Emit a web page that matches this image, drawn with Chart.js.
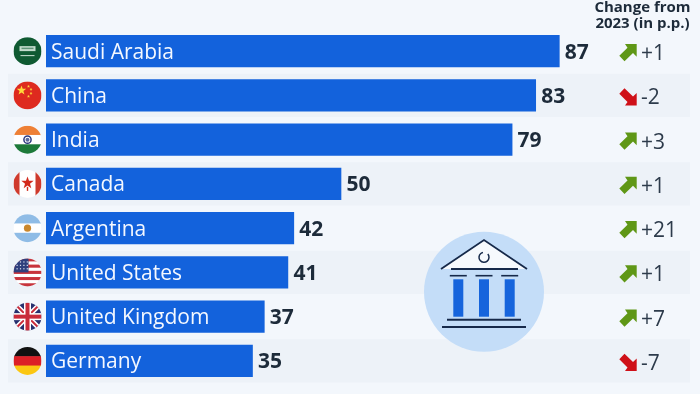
<!DOCTYPE html>
<html>
<head>
<meta charset="utf-8">
<style>
html,body{margin:0;padding:0;background:#f3f7fc;}
#wrap{position:relative;width:700px;height:394px;}
</style>
<script src="https://cdn.jsdelivr.net/npm/chart.js@4"></script>
</head>
<body>
<div id="wrap"><canvas id="c" width="700" height="394"></canvas></div>
<script>
const categories = ["Saudi Arabia","China","India","Canada","Argentina","United States","United Kingdom","Germany"];
const values = [87,83,79,50,42,41,37,35];
const changes = ["+1","-2","+3","+1","+21","+1","+7","-7"];
const headerLines = ["Change from","2023 (in p.p.)"];

const FONT = '"Open Sans","Noto Sans",sans-serif';
const DARK = '#1d2b3a';

function stripes(ctx,x,y,r,cols){
  const h=2*r/cols.length;
  cols.forEach((c,i)=>{ctx.fillStyle=c;ctx.fillRect(x-r,y-r+i*h,2*r,h+0.5);});
}
function star(ctx,x,y,r,col){
  ctx.fillStyle=col;ctx.beginPath();
  for(let i=0;i<10;i++){
    const a=-Math.PI/2+i*Math.PI/5,rr=i%2?r*0.4:r;
    ctx.lineTo(x+rr*Math.cos(a),y+rr*Math.sin(a));
  }
  ctx.closePath();ctx.fill();
}
const flags = [
 (c,x,y,r)=>{c.fillStyle='#0f5a32';c.fillRect(x-r,y-r,2*r,2*r);
   c.fillStyle='#c4dccd';c.fillRect(x-8,y-5,16,5);
   c.fillStyle='#5f9478';c.fillRect(x-6,y-3.5,12,1.5);
   c.fillStyle='#cfe3d6';c.fillRect(x-7,y+4,14,1);},
 (c,x,y,r)=>{c.fillStyle='#de2a1f';c.fillRect(x-r,y-r,2*r,2*r);
   star(c,x-6,y-5,5,'#ffd83a');
   [[1,-9],[3.5,-6],[3.5,-2],[1,1]].forEach(p=>star(c,x+p[0],y+p[1],1.6,'#ffd83a'));},
 (c,x,y,r)=>{stripes(c,x,y,r,['#ee8036','#ffffff','#1d7a3a']);
   c.strokeStyle='#2c3a80';c.lineWidth=1.5;c.beginPath();c.arc(x,y,3.6,0,7);c.stroke();
   c.fillStyle='#5a6aa0';c.beginPath();c.arc(x,y,2,0,7);c.fill();},
 (c,x,y,r)=>{c.fillStyle='#fff';c.fillRect(x-r,y-r,2*r,2*r);
   c.fillStyle='#cf3a2c';c.fillRect(x-r,y-r,6,2*r);c.fillRect(x+r-6,y-r,6,2*r);
   star(c,x,y-1,6.5,'#d2291c');c.fillRect(x-0.7,y+3,1.4,4);},
 (c,x,y,r)=>{stripes(c,x,y,r,['#8fbce6','#ffffff','#8fbce6']);
   c.fillStyle='#c9872d';c.beginPath();c.arc(x,y,3.6,0,7);c.fill();},
 (c,x,y,r)=>{const n=9;for(let i=0;i<n;i++){c.fillStyle=i%2?'#fff':'#c8343c';c.fillRect(x-r,y-r+i*2*r/n,2*r,2*r/n+0.3);}
   c.fillStyle='#2f3f7d';c.fillRect(x-r,y-r,r+1,r);
   c.fillStyle='#dfe4f2';for(let i=0;i<4;i++)for(let j=0;j<3;j++)c.fillRect(x-r+3+i*3.4,y-r+3+j*3.4,1.2,1.2);},
 (c,x,y,r)=>{c.fillStyle='#27306e';c.fillRect(x-r,y-r,2*r,2*r);
   c.strokeStyle='#fff';c.lineWidth=5;c.beginPath();c.moveTo(x-r,y-r);c.lineTo(x+r,y+r);c.moveTo(x+r,y-r);c.lineTo(x-r,y+r);c.stroke();
   c.strokeStyle='#c92b3a';c.lineWidth=2;c.stroke();
   c.fillStyle='#fff';c.fillRect(x-3.5,y-r,7,2*r);c.fillRect(x-r,y-3.5,2*r,7);
   c.fillStyle='#c92b3a';c.fillRect(x-2,y-r,4,2*r);c.fillRect(x-r,y-2,2*r,4);},
 (c,x,y,r)=>stripes(c,x,y,r,['#111111','#dc1f26','#fbc712'])
];

function arrow(c,x,y,up){
  c.save();c.translate(x,y);if(!up)c.scale(1,-1);
  c.fillStyle=up?'#5f9716':'#cf1018';
  c.beginPath();
  c.moveTo(-3,-8.7);c.lineTo(8.7,-8.7);c.lineTo(8.7,4);c.lineTo(5,0.3);
  c.lineTo(-3.5,8.7);c.lineTo(-8.7,3.2);c.lineTo(-0.5,-5);
  c.closePath();c.fill();c.restore();
}

function bankIcon(c,x,y){
  c.save();c.translate(x,y);
  c.fillStyle='#c4ddf8';c.beginPath();c.arc(0,0,60,0,7);c.fill();
  c.strokeStyle='#16294a';c.lineWidth=1.8;c.fillStyle='#f6f9fd';
  c.beginPath();c.moveTo(-43,-22.7);c.lineTo(0,-51.7);c.lineTo(43,-22.7);c.closePath();c.fill();
  c.beginPath();c.moveTo(-43,-22.7);c.lineTo(0,-51.7);c.lineTo(43,-22.7);c.stroke();
  c.beginPath();c.moveTo(-33,-22.7);c.lineTo(34,-22.7);c.stroke();
  c.lineWidth=1.5;
  c.beginPath();c.arc(0,-34.4,5,-0.7,4.5);c.stroke();
  [-25.7,0,25.7].forEach(dx=>{
    c.lineWidth=1.6;
    c.beginPath();c.moveTo(dx-8.5,-16);c.lineTo(dx+8.5,-16);c.stroke();
    c.fillStyle='#1664dc';c.fillRect(dx-5,-12.4,10,37.4);
  });
  c.lineWidth=2;
  c.beginPath();c.moveTo(-37,28);c.lineTo(37,28);c.stroke();
  c.beginPath();c.moveTo(-42,35.3);c.lineTo(42,35.3);c.stroke();
  c.restore();
}

const decor = {
  id:'decor',
  beforeDatasetsDraw(ch){
    const c=ch.ctx,y=ch.scales.y;
    c.save();
    const step=y.getPixelForValue(1)-y.getPixelForValue(0);
    categories.forEach((n,i)=>{
      if(i%2){c.fillStyle='#edf2f8';c.fillRect(8,y.getPixelForValue(i)-step/2+0.5,682,step-1);}
    });
    bankIcon(c,484,291.7);
    c.restore();
  },
  afterDatasetsDraw(ch){
    const c=ch.ctx,x=ch.scales.x,y=ch.scales.y;
    c.save();
    c.textBaseline='middle';
    values.forEach((v,i)=>{
      const py=y.getPixelForValue(i);
      c.textAlign='left';
      c.fillStyle='#f4f8ff';c.font='400 21px '+FONT;
      c.fillText(categories[i],51,py+1.5);
      c.fillStyle=DARK;c.font='700 21px '+FONT;
      c.fillText(String(v),x.getPixelForValue(v)+5.5,py+1.5);
      arrow(c,628,py+1.5,changes[i][0]==='+');
      c.fillStyle='#2d3b4b';c.font='400 21px '+FONT;
      c.fillText(changes[i],641,py+3);
      c.save();c.beginPath();c.arc(27.5,py,14,0,7);c.clip();
      flags[i](c,27.5,py,14);c.restore();
    });
    c.fillStyle=DARK;c.font='700 15px '+FONT;c.textAlign='center';
    headerLines.forEach((t,i)=>c.fillText(t,642.5,7.5+i*16.7));
    c.restore();
  }
};

new Chart(document.getElementById('c'),{
  type:'bar',
  data:{labels:categories,datasets:[{data:values,backgroundColor:'#1362dc',barThickness:31.5,borderSkipped:false}]},
  options:{
    indexAxis:'y',responsive:false,animation:false,
    layout:{padding:{left:46,right:64,top:29,bottom:11}},
    plugins:{legend:{display:false},tooltip:{enabled:false}},
    scales:{
      x:{display:false,min:0,max:100},
      y:{display:false}
    }
  },
  plugins:[decor]
});
</script>
</body>
</html>
